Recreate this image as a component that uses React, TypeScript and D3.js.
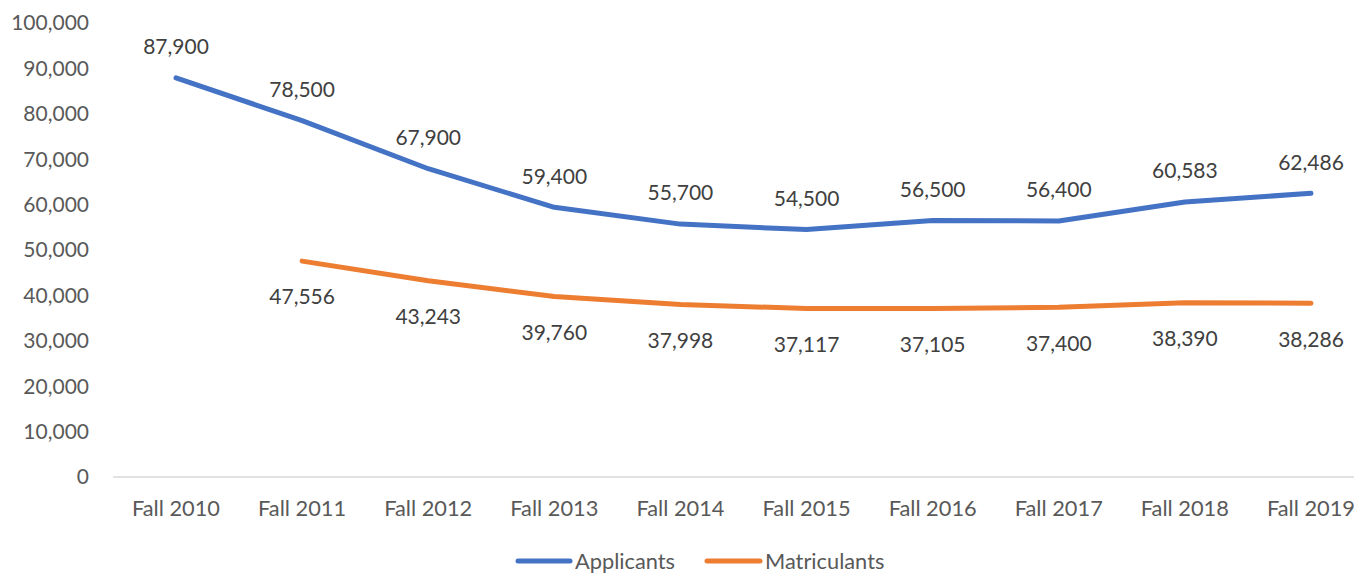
import React from "react";
import * as d3 from "d3";

const categories = ["Fall 2010", "Fall 2011", "Fall 2012", "Fall 2013", "Fall 2014", "Fall 2015", "Fall 2016", "Fall 2017", "Fall 2018", "Fall 2019"];
const applicants: (number | null)[] = [87900, 78500, 67900, 59400, 55700, 54500, 56500, 56400, 60583, 62486];
const matriculants: (number | null)[] = [null, 47556, 43243, 39760, 37998, 37117, 37105, 37400, 38390, 38286];
const yTicks = [0, 10000, 20000, 30000, 40000, 50000, 60000, 70000, 80000, 90000, 100000];

const W = 1354;
const H = 573;
const FONT = "Lato, 'Open Sans', sans-serif";
const BLUE = "#4472C4";
const ORANGE = "#ED7D31";

export default function App() {
  const x = d3.scalePoint<string>().domain(categories).range([176, 1311]);
  const y = d3.scaleLinear().domain([0, 100000]).range([477, 23]);
  const fmt = d3.format(",");
  const line = d3
    .line<number | null>()
    .defined((d) => d != null)
    .x((_, i) => x(categories[i]) as number)
    .y((d) => y(d as number));

  return (
    <svg width={W} height={H} style={{ position: "absolute", left: 0, top: 0, background: "#fff" }}>
      {yTicks.map((t) => (
        <text key={t} x={89} y={y(t)} dy="0.35em" textAnchor="end" fontFamily={FONT} fontSize={21} fill="#595959">
          {fmt(t)}
        </text>
      ))}
      <line x1={113} x2={W} y1={y(0)} y2={y(0)} stroke="#D9D9D9" strokeWidth={1.5} />
      {categories.map((c) => (
        <text key={c} x={x(c)} y={508} dy="0.35em" textAnchor="middle" fontFamily={FONT} fontSize={21.8} fill="#595959">
          {c}
        </text>
      ))}
      <path d={line(applicants) || ""} fill="none" stroke={BLUE} strokeWidth={5} strokeLinecap="round" strokeLinejoin="round" />
      <path d={line(matriculants) || ""} fill="none" stroke={ORANGE} strokeWidth={5} strokeLinecap="round" strokeLinejoin="round" />
      {applicants.map((v, i) =>
        v == null ? null : (
          <text key={"a" + i} x={x(categories[i])} y={y(v) - 31} dy="0.35em" textAnchor="middle" fontFamily={FONT} fontSize={21} fill="#404040">
            {fmt(v)}
          </text>
        )
      )}
      {matriculants.map((v, i) =>
        v == null ? null : (
          <text key={"m" + i} x={x(categories[i])} y={y(v) + 36} dy="0.35em" textAnchor="middle" fontFamily={FONT} fontSize={21} fill="#404040">
            {fmt(v)}
          </text>
        )
      )}
      <line x1={518} x2={570} y1={561} y2={561} stroke={BLUE} strokeWidth={5} strokeLinecap="round" />
      <text x={575} y={561} dy="0.35em" fontFamily={FONT} fontSize={21.8} fill="#595959">Applicants</text>
      <line x1={707} x2={760} y1={561} y2={561} stroke={ORANGE} strokeWidth={5} strokeLinecap="round" />
      <text x={765} y={561} dy="0.35em" fontFamily={FONT} fontSize={21.8} fill="#595959">Matriculants</text>
    </svg>
  );
}
